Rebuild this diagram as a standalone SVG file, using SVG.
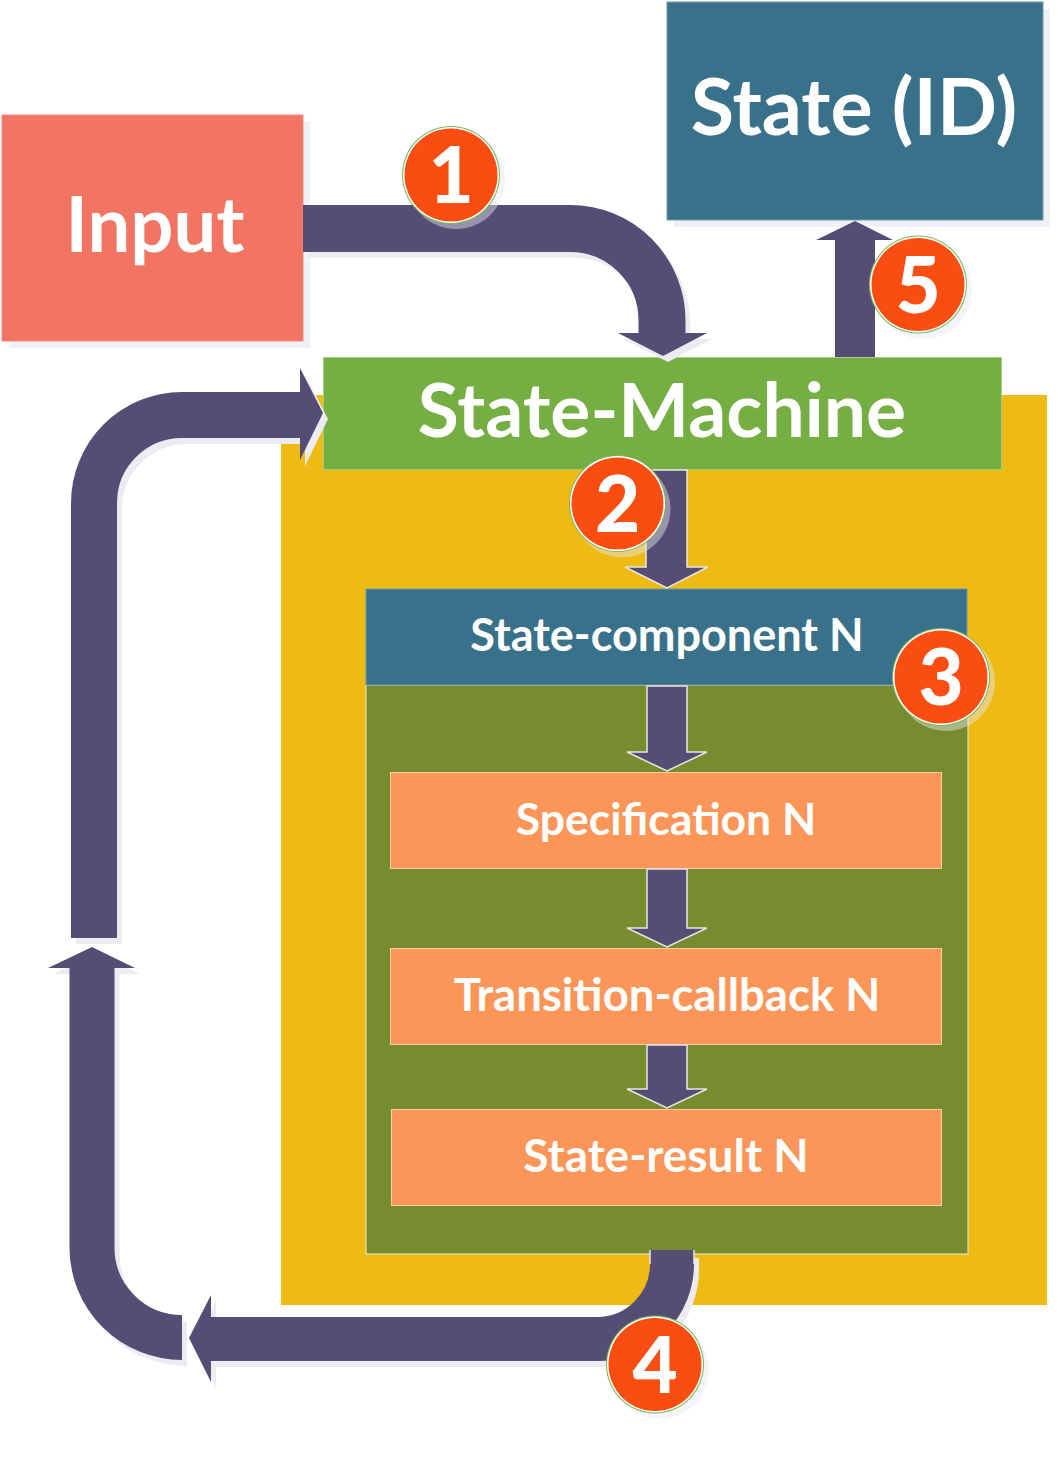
<svg xmlns="http://www.w3.org/2000/svg" width="1061" height="1468" viewBox="0 0 1061 1468">
<style>
.txt{font-family:Lato,"Open Sans","Liberation Sans",sans-serif;font-weight:700;fill:#ffffff;text-anchor:middle}
.band{fill:none;stroke:#564D75;stroke-linecap:butt}
.bandsh{fill:none;stroke:#ECEBF2;stroke-linecap:butt}
.head{fill:#564D75}
.headsh{fill:#ECEBF2}
.inner{fill:#564D75;stroke:#E9E6E0;stroke-width:1.5}
.boxsh{fill:#EEF2F8}
.badge-ring{fill:#7CB65A}
.badge-gap{fill:#ffffff}
.badge{fill:#F94D12}
.badgesh{fill:#E6E9F2;opacity:0.45}
.num{font-family:Lato,"Open Sans","Liberation Sans",sans-serif;font-weight:900;fill:#ffffff;text-anchor:middle;font-size:78px}
</style>
<rect width="1061" height="1468" fill="#ffffff"/>

<!-- box shadows -->
<rect class="boxsh" x="9" y="122" width="301" height="226"/>
<rect class="boxsh" x="674" y="9" width="376" height="218"/>

<g id="container">
<rect x="281" y="395" width="766" height="910" fill="#EDBB14"/>
</g>

<g id="input">
<rect x="2" y="115" width="301" height="226" fill="#F27564" stroke="#F48A7C" stroke-width="1"/>
<text class="txt" x="155" y="252" font-size="76">Input</text>
</g>

<g id="state-id">
<rect x="667" y="2" width="376" height="218" fill="#3A718A" stroke="#6E97AB" stroke-width="1"/>
<text class="txt" x="854" y="135" font-size="79">State (ID)</text>
</g>

<g id="state-machine">
<rect x="323.5" y="357.5" width="678" height="112" fill="#75AE42" stroke="#A5CC84" stroke-width="1"/>
<text class="txt" x="662" y="437" font-size="75" font-weight="600">State-Machine</text>
</g>

<g id="state-component">
<rect x="366" y="685" width="602" height="569" fill="#778C2E" stroke="#E8E0B0" stroke-width="1.2"/>
<rect x="366" y="589" width="601" height="96" fill="#3A718A" stroke="#6E97AB" stroke-width="1"/>
<text class="txt" x="667" y="651" font-size="45">State-component N</text>
</g>

<g id="specification">
<rect x="390.5" y="772.5" width="551" height="96" fill="#FB9658" stroke="#FDC9A6" stroke-width="1"/>
<text class="txt" x="666" y="835" font-size="44.5">Specification N</text>
</g>

<g id="transition-callback">
<rect x="390.5" y="948.5" width="551" height="96" fill="#FB9658" stroke="#FDC9A6" stroke-width="1"/>
<text class="txt" x="667" y="1011" font-size="45.5">Transition-callback N</text>
</g>

<g id="state-result">
<rect x="391.5" y="1109.5" width="550" height="96" fill="#FB9658" stroke="#FDC9A6" stroke-width="1"/>
<text class="txt" x="666" y="1172" font-size="46">State-result N</text>
</g>

<g id="connectors">
<!-- shadows -->
<g transform="translate(5,6)">
<path class="bandsh" stroke-width="47" d="M303,228.5 H570 A92,92 0 0 1 662,320.5 V333"/>
<polygon class="headsh" points="618,333 707,333 663,356"/>
<path class="bandsh" stroke-width="44" d="M672,1252 V1264 A75,75 0 0 1 597,1339 H211"/>
<polygon class="headsh" points="211,1295 211,1382 189,1338"/>
<path class="bandsh" stroke-width="45" d="M182,1337.5 A90,90 0 0 1 92,1247.5 V968"/>
<polygon class="headsh" points="48,968 135,968 92,947"/>
<path class="bandsh" stroke-width="46" d="M94,938 V503 A88,88 0 0 1 182,415 H300"/>
<polygon class="headsh" points="300,368 300,460 323,413"/>
</g>
<!-- 1: input to state-machine -->
<path class="band" stroke-width="47" d="M303,228.5 H570 A92,92 0 0 1 662,320.5 V333"/>
<polygon class="head" points="618,333 707,333 663,356"/>
<!-- 5: state-machine to state -->
<polygon class="head" points="835,357 875,357 875,240 893,240 855,221 816,240 835,240"/>
<!-- 2: state-machine to component -->
<polygon class="inner" points="646,470 687,470 687,567 708,567 667,588 625,567 646,567"/>
<!-- inner chain -->
<polygon class="inner" points="647,686 687,686 687,752 707,752 667,771 627,752 647,752"/>
<polygon class="inner" points="647,869 687,869 687,928 707,928 667,947 627,928 647,928"/>
<polygon class="inner" points="647,1045 687,1045 687,1089 707,1089 667,1108 627,1089 647,1089"/>
<!-- 4: result out -->
<path class="band" stroke-width="44" d="M672,1250 V1264 A75,75 0 0 1 597,1339 H211"/>
<path d="M650,1250 V1264 M694,1250 V1264" stroke="#E9E6E0" stroke-width="1.5" fill="none"/>
<polygon class="head" points="211,1295 211,1382 189,1338"/>
<!-- feedback loop -->
<path class="band" stroke-width="45" d="M182,1337.5 A90,90 0 0 1 92,1247.5 V968"/>
<polygon class="head" points="48,968 135,968 92,947"/>
<path class="band" stroke-width="46" d="M94,938 V503 A88,88 0 0 1 182,415 H300"/>
<polygon class="head" points="300,368 300,460 323,413"/>
</g>

<g id="badge-1">
<circle class="badgesh" cx="456" cy="180" r="49"/>
<circle class="badge-ring" cx="451" cy="175" r="49"/>
<circle class="badge-gap" cx="451" cy="175" r="48"/>
<circle class="badge" cx="451" cy="175" r="46.5"/>
<text class="num" x="451" y="203">1</text>
</g>
<g id="badge-2">
<circle class="badgesh" cx="622" cy="509" r="48.5"/>
<circle class="badge-ring" cx="617.5" cy="503.5" r="48.5"/>
<circle class="badge-gap" cx="617.5" cy="503.5" r="47.5"/>
<circle class="badge" cx="617.5" cy="503.5" r="46"/>
<text class="num" x="617.5" y="532">2</text>
</g>
<g id="badge-3">
<circle class="badgesh" cx="946" cy="682" r="49"/>
<circle class="badge-ring" cx="941" cy="677" r="49"/>
<circle class="badge-gap" cx="941" cy="677" r="48"/>
<circle class="badge" cx="941" cy="677" r="46.5"/>
<text class="num" x="941" y="705">3</text>
</g>
<g id="badge-4">
<circle class="badgesh" cx="660" cy="1370" r="49"/>
<circle class="badge-ring" cx="655" cy="1364.5" r="49"/>
<circle class="badge-gap" cx="655" cy="1364.5" r="48"/>
<circle class="badge" cx="655" cy="1364.5" r="46.5"/>
<text class="num" x="655" y="1393">4</text>
</g>
<g id="badge-5">
<circle class="badgesh" cx="923" cy="290" r="49"/>
<circle class="badge-ring" cx="918" cy="284.5" r="49"/>
<circle class="badge-gap" cx="918" cy="284.5" r="48"/>
<circle class="badge" cx="918" cy="284.5" r="46.5"/>
<text class="num" x="918" y="313">5</text>
</g>
</svg>
